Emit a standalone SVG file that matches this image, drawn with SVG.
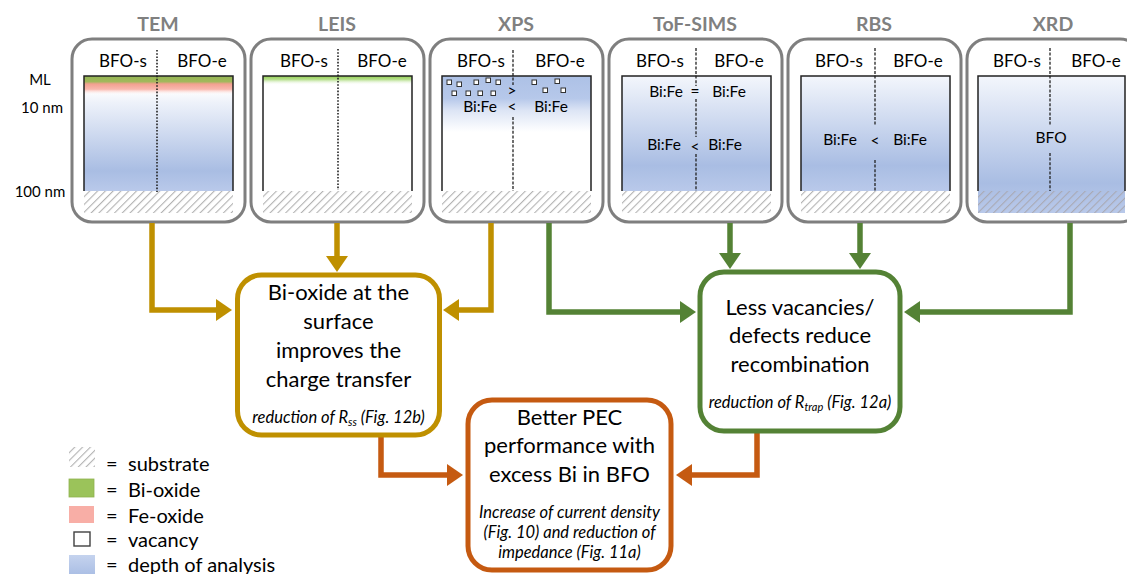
<svg xmlns="http://www.w3.org/2000/svg" width="1127" height="574" viewBox="0 0 1127 574">
  <style>
    text { font-family: Lato, "Noto Sans", "Liberation Sans", sans-serif; fill: #000; }
    .title { font-size: 19.5px; font-weight: bold; fill: #808080; text-anchor: middle; }
    .col { font-size: 17px; text-anchor: middle; }
    .depth { font-size: 15px; text-anchor: middle; }
    .ratio { font-size: 15.5px; text-anchor: middle; }
    .panel { fill: #fff; stroke: #7f7f7f; stroke-width: 3; }
    .frame { fill: none; stroke: #222; stroke-width: 1.5; }
    .dotted { stroke: #222; stroke-width: 1.6; stroke-dasharray: 1.6 1.6; }
    .dashed { stroke: #222; stroke-width: 1.3; stroke-dasharray: 3 1.6; }
    .vac { fill: #fff; stroke: #333; stroke-width: 1; }
    .box { fill: #fff; stroke-width: 5; }
    .main { font-size: 22px; text-anchor: middle; }
    .note { font-size: 16.5px; font-style: italic; text-anchor: middle; }
    .legend { font-size: 20px; }
    .wire { fill: none; stroke-width: 5.5; stroke-linejoin: miter; }
    .gold { stroke: #BF9000; }
    .green { stroke: #548235; }
    .orange { stroke: #C55A11; }
  </style>
  <defs>
    <pattern id="hatch" width="5.5" height="5.5" patternUnits="userSpaceOnUse" patternTransform="rotate(45)">
      <rect width="5.5" height="5.5" fill="#fff"/>
      <line x1="0" y1="0" x2="0" y2="5.5" stroke="#b3b3b3" stroke-width="2.2"/>
    </pattern>
    <pattern id="hatchClear" width="5.5" height="5.5" patternUnits="userSpaceOnUse" patternTransform="rotate(45)">
      <line x1="0" y1="0" x2="0" y2="5.5" stroke="#a9a9b3" stroke-width="2.2"/>
    </pattern>
    <linearGradient id="blue" x1="0" y1="0" x2="0" y2="1">
      <stop offset="0" stop-color="#f3f6fc"/>
      <stop offset="0.78" stop-color="#a9bde3"/>
      <stop offset="1" stop-color="#b9c9ea"/>
    </linearGradient>
    <linearGradient id="temBlue" x1="0" y1="0" x2="0" y2="1">
      <stop offset="0" stop-color="#ffffff"/>
      <stop offset="0.12" stop-color="#eef2fa"/>
      <stop offset="0.8" stop-color="#a9bde3"/>
      <stop offset="1" stop-color="#b9c9ea"/>
    </linearGradient>
    <linearGradient id="temTop" x1="0" y1="0" x2="0" y2="1">
      <stop offset="0" stop-color="#93b653"/>
      <stop offset="0.3" stop-color="#a3b85c"/>
      <stop offset="0.42" stop-color="#f3a090"/>
      <stop offset="0.7" stop-color="#f9b8ae"/>
      <stop offset="1" stop-color="#ffffff" stop-opacity="0"/>
    </linearGradient>
    <linearGradient id="leisTop" x1="0" y1="0" x2="0" y2="1">
      <stop offset="0" stop-color="#92d050"/>
      <stop offset="0.4" stop-color="#b8e090"/>
      <stop offset="1" stop-color="#ffffff" stop-opacity="0"/>
    </linearGradient>
    <linearGradient id="xpsTop" x1="0" y1="0" x2="0" y2="1">
      <stop offset="0" stop-color="#adc1e6"/>
      <stop offset="0.4" stop-color="#b6c8ea"/>
      <stop offset="0.62" stop-color="#dde5f5"/>
      <stop offset="1" stop-color="#ffffff"/>
    </linearGradient>
    <linearGradient id="legendBlue" x1="0" y1="0" x2="0" y2="1">
      <stop offset="0" stop-color="#c5d3ee"/>
      <stop offset="1" stop-color="#aabee4"/>
    </linearGradient>
    <marker id="headGold" markerUnits="userSpaceOnUse" markerWidth="17" markerHeight="22" refX="6" refY="11" orient="auto">
      <path d="M0,0 L16,11 L0,22 z" fill="#BF9000"/>
    </marker>
    <marker id="headGreen" markerUnits="userSpaceOnUse" markerWidth="17" markerHeight="22" refX="6" refY="11" orient="auto">
      <path d="M0,0 L16,11 L0,22 z" fill="#548235"/>
    </marker>
    <marker id="headOrange" markerUnits="userSpaceOnUse" markerWidth="17" markerHeight="22" refX="6" refY="11" orient="auto">
      <path d="M0,0 L16,11 L0,22 z" fill="#C55A11"/>
    </marker>
  </defs>

  <rect width="1127" height="574" fill="#fff"/>

  <!-- depth scale -->
  <g id="depth-scale">
    <text class="depth" x="40" y="85">ML</text>
    <text class="depth" x="42" y="113">10 nm</text>
    <text class="depth" x="40" y="197">100 nm</text>
  </g>

  <!-- TEM -->
  <g id="tem">
    <text class="title" x="158" y="31">TEM</text>
    <rect class="panel" x="72" y="39" width="173" height="183" rx="20"/>
    <text class="col" x="123" y="67">BFO-s</text>
    <text class="col" x="202" y="67">BFO-e</text>
    <rect x="84" y="90" width="149" height="101" fill="url(#temBlue)"/>
    <rect x="84" y="76" width="149" height="19" fill="url(#temTop)"/>
    <rect x="84" y="191" width="149" height="22" fill="url(#hatch)"/>
    <path class="frame" d="M84,191 V76 H233 V191"/>
    <line class="dotted" x1="157" y1="50" x2="157" y2="192"/>
  </g>

  <!-- LEIS -->
  <g id="leis">
    <text class="title" x="337" y="31">LEIS</text>
    <rect class="panel" x="251" y="39" width="173" height="183" rx="20"/>
    <text class="col" x="304" y="67">BFO-s</text>
    <text class="col" x="382" y="67">BFO-e</text>
    <rect x="263" y="76" width="149" height="9" fill="url(#leisTop)"/>
    <rect x="263" y="191" width="149" height="22" fill="url(#hatch)"/>
    <path class="frame" d="M263,191 V76 H412 V191"/>
    <line class="dotted" x1="338" y1="49" x2="338" y2="190"/>
  </g>

  <!-- XPS -->
  <g id="xps">
    <text class="title" x="516" y="31">XPS</text>
    <rect class="panel" x="430" y="39" width="173" height="183" rx="20"/>
    <text class="col" x="481" y="67">BFO-s</text>
    <text class="col" x="560" y="67">BFO-e</text>
    <rect x="442" y="76" width="149" height="56" fill="url(#xpsTop)"/>
    <rect x="442" y="191" width="149" height="22" fill="url(#hatch)"/>
    <path class="frame" d="M442,191 V76 H591 V191"/>
    <line class="dashed" x1="513" y1="50" x2="513" y2="85"/>
    <line class="dashed" x1="513" y1="117" x2="513" y2="191"/>
    <rect class="vac" x="447" y="80" width="4.5" height="4.5"/>
    <rect class="vac" x="457" y="82" width="4.5" height="4.5"/>
    <rect class="vac" x="474" y="80" width="4.5" height="4.5"/>
    <rect class="vac" x="486" y="78" width="4.5" height="4.5"/>
    <rect class="vac" x="496" y="80" width="4.5" height="4.5"/>
    <rect class="vac" x="452" y="91" width="4.5" height="4.5"/>
    <rect class="vac" x="466" y="91" width="4.5" height="4.5"/>
    <rect class="vac" x="478" y="91" width="4.5" height="4.5"/>
    <rect class="vac" x="491" y="91" width="4.5" height="4.5"/>
    <rect class="vac" x="532" y="80" width="4.5" height="4.5"/>
    <rect class="vac" x="555" y="79" width="4.5" height="4.5"/>
    <rect class="vac" x="543" y="88" width="4.5" height="4.5"/>
    <rect class="vac" x="561" y="88" width="4.5" height="4.5"/>
    <text class="ratio" x="512" y="96">&gt;</text>
    <text class="ratio" x="480" y="112">Bi:Fe</text>
    <text class="ratio" x="512" y="112">&lt;</text>
    <text class="ratio" x="551" y="112">Bi:Fe</text>
  </g>

  <!-- ToF-SIMS -->
  <g id="tof-sims">
    <text class="title" x="695" y="31">ToF-SIMS</text>
    <rect class="panel" x="609" y="39" width="173" height="183" rx="20"/>
    <text class="col" x="660" y="67">BFO-s</text>
    <text class="col" x="739" y="67">BFO-e</text>
    <rect x="622" y="76" width="149" height="115" fill="url(#blue)"/>
    <rect x="622" y="191" width="149" height="22" fill="url(#hatch)"/>
    <path class="frame" d="M622,191 V76 H771 V191"/>
    <line class="dashed" x1="696" y1="48" x2="696" y2="86"/>
    <line class="dashed" x1="696" y1="99" x2="696" y2="137"/>
    <line class="dashed" x1="696" y1="154" x2="696" y2="191"/>
    <text class="ratio" x="666" y="97">Bi:Fe</text>
    <text class="ratio" x="695" y="97">=</text>
    <text class="ratio" x="729" y="97">Bi:Fe</text>
    <text class="ratio" x="664" y="150">Bi:Fe</text>
    <text class="ratio" x="695" y="152">&lt;</text>
    <text class="ratio" x="725" y="150">Bi:Fe</text>
  </g>

  <!-- RBS -->
  <g id="rbs">
    <text class="title" x="874" y="31">RBS</text>
    <rect class="panel" x="788" y="39" width="173" height="183" rx="20"/>
    <text class="col" x="839" y="67">BFO-s</text>
    <text class="col" x="918" y="67">BFO-e</text>
    <rect x="801" y="76" width="149" height="115" fill="url(#blue)"/>
    <rect x="801" y="191" width="149" height="22" fill="url(#hatch)"/>
    <path class="frame" d="M801,191 V76 H950 V191"/>
    <line class="dashed" x1="875" y1="48" x2="875" y2="125"/>
    <line class="dashed" x1="875" y1="160" x2="875" y2="191"/>
    <text class="ratio" x="840" y="145">Bi:Fe</text>
    <text class="ratio" x="875" y="146">&lt;</text>
    <text class="ratio" x="910" y="145">Bi:Fe</text>
  </g>

  <!-- XRD -->
  <g id="xrd">
    <text class="title" x="1053" y="31">XRD</text>
    <rect class="panel" x="967" y="39" width="173" height="183" rx="20"/>
    <text class="col" x="1017" y="67">BFO-s</text>
    <text class="col" x="1096" y="67">BFO-e</text>
    <rect x="978" y="76" width="147" height="137" fill="url(#blue)"/>
    <rect x="978" y="191" width="147" height="22" fill="url(#hatchClear)"/>
    <path class="frame" d="M978,191 V76 H1125 V191"/>
    <line class="dashed" x1="1050" y1="48" x2="1050" y2="125"/>
    <line class="dashed" x1="1050" y1="153" x2="1050" y2="191"/>
    <text class="ratio" x="1051" y="143">BFO</text>
  </g>

  <!-- connectors -->
  <g id="connectors">
    <path class="wire gold" d="M152,223 V310 H222" marker-end="url(#headGold)"/>
    <path class="wire gold" d="M337,223 V262" marker-end="url(#headGold)"/>
    <path class="wire gold" d="M491,223 V310 H453" marker-end="url(#headGold)"/>
    <path class="wire green" d="M549,223 V312 H686" marker-end="url(#headGreen)"/>
    <path class="wire green" d="M730,223 V259" marker-end="url(#headGreen)"/>
    <path class="wire green" d="M860,223 V259" marker-end="url(#headGreen)"/>
    <path class="wire green" d="M1070,223 V312 H914" marker-end="url(#headGreen)"/>
    <path class="wire orange" d="M381,437 V475 H453" marker-end="url(#headOrange)"/>
    <path class="wire orange" d="M757,433 V475 H686" marker-end="url(#headOrange)"/>
  </g>

  <!-- Bi-oxide conclusion -->
  <g id="surface-node">
    <rect class="box gold" x="237.5" y="275" width="202" height="160" rx="24"/>
    <text class="main" x="338.5" y="300">Bi-oxide at the</text>
    <text class="main" x="338.5" y="329">surface</text>
    <text class="main" x="338.5" y="358">improves the</text>
    <text class="main" x="338.5" y="387">charge transfer</text>
    <text class="note" x="338.5" y="423">reduction of R<tspan font-size="11" dy="3">ss</tspan><tspan dy="-3"> (Fig. 12b)</tspan></text>
  </g>

  <!-- defects conclusion -->
  <g id="defects-node">
    <rect class="box green" x="700" y="272" width="200" height="159" rx="24"/>
    <text class="main" x="800" y="315">Less vacancies/</text>
    <text class="main" x="800" y="343">defects reduce</text>
    <text class="main" x="800" y="372">recombination</text>
    <text class="note" x="800" y="408">reduction of R<tspan font-size="11" dy="3">trap</tspan><tspan dy="-3"> (Fig. 12a)</tspan></text>
  </g>

  <!-- overall result -->
  <g id="result-node">
    <rect class="box orange" x="468" y="400" width="203" height="170" rx="24"/>
    <text class="main" x="569.5" y="425">Better PEC</text>
    <text class="main" x="569.5" y="453">performance with</text>
    <text class="main" x="569.5" y="482">excess Bi in BFO</text>
    <text class="note" x="569.5" y="518">Increase of current density</text>
    <text class="note" x="569.5" y="538">(Fig. 10) and reduction of</text>
    <text class="note" x="569.5" y="558">impedance (Fig. 11a)</text>
  </g>

  <!-- legend -->
  <g id="legend">
    <rect x="69" y="447" width="26" height="20" fill="url(#hatch)"/>
    <text class="legend" x="106" y="471">=</text>
    <text class="legend" x="128" y="471">substrate</text>
    <rect x="69" y="479" width="25" height="18" fill="#9bc35a" stroke="#8fb24f" stroke-width="0.8"/>
    <text class="legend" x="106" y="497">=</text>
    <text class="legend" x="128" y="497">Bi-oxide</text>
    <rect x="69" y="506" width="25" height="17" fill="#f8aea6"/>
    <text class="legend" x="106" y="523">=</text>
    <text class="legend" x="128" y="523">Fe-oxide</text>
    <rect x="74" y="532" width="16" height="14" fill="#fff" stroke="#404040" stroke-width="1.4"/>
    <text class="legend" x="106" y="547">=</text>
    <text class="legend" x="128" y="547">vacancy</text>
    <rect x="69" y="555" width="26" height="20" fill="url(#legendBlue)"/>
    <text class="legend" x="106" y="572">=</text>
    <text class="legend" x="128" y="572">depth of analysis</text>
  </g>
</svg>
